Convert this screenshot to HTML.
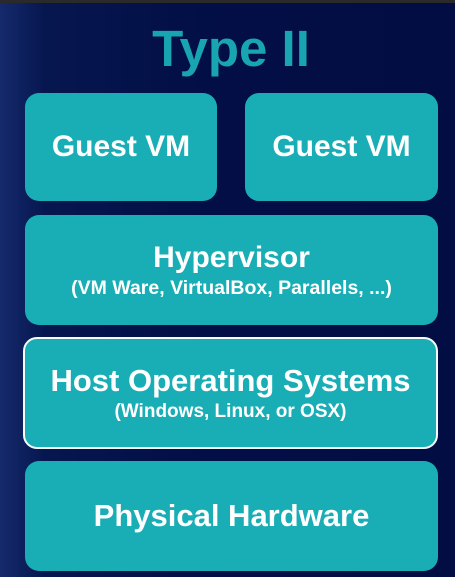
<!DOCTYPE html>
<html><head><style>
body{margin:0;width:455px;height:577px;overflow:hidden;background:linear-gradient(90deg,#152a6c 0%,#06164f 10%,#020e45 50%,#020d44 100%);font-family:"Liberation Sans",sans-serif;position:relative}
.top{position:absolute;left:0;top:0;width:455px;height:3px;background:#2a2a2a}
.t{position:absolute;left:0;width:462px;text-align:center;top:19px;font-size:51px;font-weight:bold;color:#19a4b1}
.b{position:absolute;background:#19aeb5;border-radius:14px;color:#fff;font-weight:bold;display:flex;flex-direction:column;align-items:center;justify-content:center;text-align:center;font-size:31px;white-space:nowrap}
.s{font-size:18px;margin-top:2px}
</style></head><body>
<div class="top"></div>
<div class="t">Type II</div>
<div class="b" style="left:25px;top:93px;width:192px;height:108px;font-size:30px">Guest VM</div>
<div class="b" style="left:245px;top:93px;width:193px;height:108px;font-size:30px">Guest VM</div>
<div class="b" style="left:25px;top:215px;width:413px;height:110px;font-size:30px"><div>Hypervisor</div><div class="s" style="font-size:19.5px">(VM Ware, VirtualBox, Parallels, ...)</div></div>
<div class="b" style="left:23px;top:337px;width:411px;height:108px;border:2px solid #f4fbfb"><div>Host Operating Systems</div><div class="s" style="font-size:19px">(Windows, Linux, or OSX)</div></div>
<div class="b" style="left:25px;top:461px;width:413px;height:110px">Physical Hardware</div>
</body></html>
